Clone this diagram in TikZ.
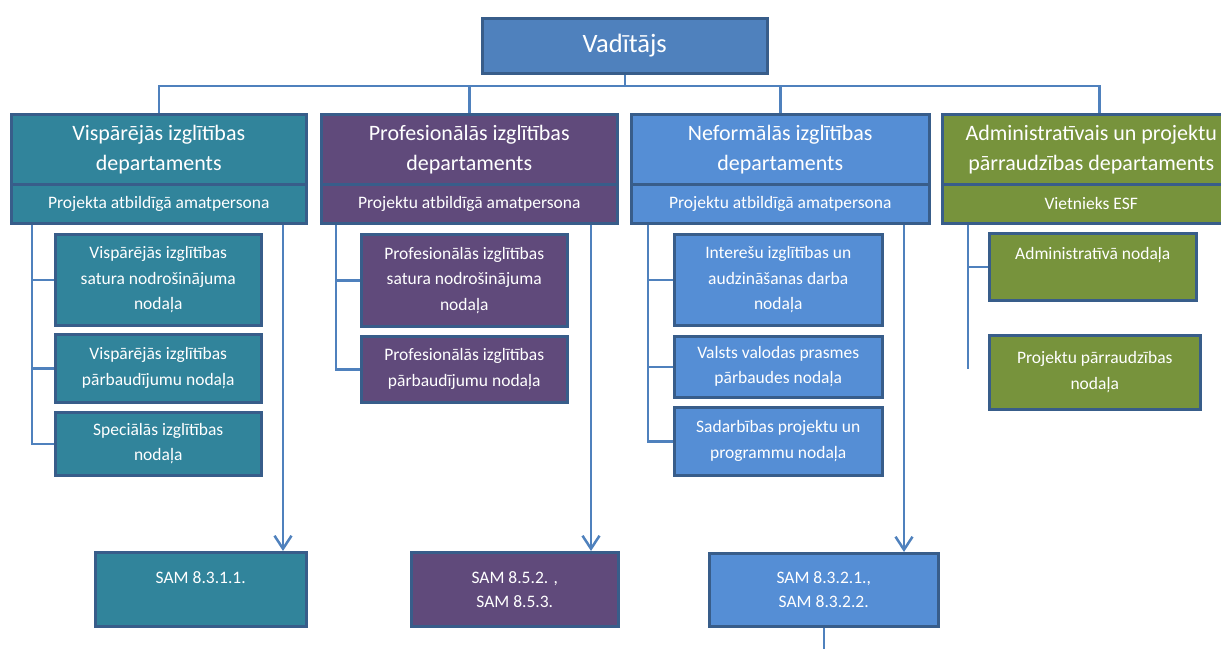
\documentclass[tikz,border=0pt]{standalone}
\usepackage{fontspec}
\setmainfont{Carlito}
\usetikzlibrary{arrows.meta,shadows}
\definecolor{cTop}{HTML}{4F81BD}
\definecolor{cBorder}{HTML}{385D8A}
\definecolor{cTeal}{HTML}{31849B}
\definecolor{cPurple}{HTML}{604A7B}
\definecolor{cBlue}{HTML}{558ED5}
\definecolor{cGreen}{HTML}{77933C}
\definecolor{cLine}{HTML}{4F81BD}
\begin{document}
\begin{tikzpicture}[x=1pt,y=-1pt,
  box/.style={draw=cBorder, line width=2.5pt, text=white, inner sep=0pt,
    anchor=north west, align=center,
    drop shadow={opacity=0.18,shadow xshift=1.5pt,shadow yshift=-1.5pt}},
  sz/.style n args={2}{minimum width=#1pt, minimum height=#2pt},
  fTop/.style={font=\fontsize{26.5}{30}\selectfont},
  fDept/.style={font=\fontsize{22}{30}\selectfont},
  fSub/.style={font=\fontsize{17.5}{20}\selectfont},
  fBox/.style={font=\fontsize{17.5}{25.5}\selectfont},
  fSam/.style={font=\fontsize{17.5}{24}\selectfont},
  conn/.style={draw=cLine, line width=2.5pt},
  arr/.style={conn, -{Straight Barb[length=13pt,width=17pt,line width=2.5pt]}},
]
\useasboundingbox (0,0) rectangle (1221,648);
\clip (0,0) rectangle (1221,648);

% top
\node[box, fill=cTop, sz={285}{55}, fTop] (top) at (481,17) {Vadītājs};

% departments
\node[box, fill=cTeal, sz={295}{70}, fDept] (d1) at (10,113) {Vispārējās izglītības\\departaments};
\node[box, fill=cTeal, sz={295}{39}, fSub] (d1s) at (10,183) {Projekta atbildīgā amatpersona};
\node[box, fill=cPurple, sz={296}{70}, fDept] (d2) at (320,113) {Profesionālās izglītības\\departaments};
\node[box, fill=cPurple, sz={296}{39}, fSub] (d2s) at (320,183) {Projektu atbildīgā amatpersona};
\node[box, fill=cBlue, sz={298}{70}, fDept] (d3) at (630,113) {Neformālās izglītības\\departaments};
\node[box, fill=cBlue, sz={298}{39}, fSub] (d3s) at (630,183) {Projektu atbildīgā amatpersona};
\node[box, fill=cGreen, sz={298}{70}, fDept] (d4) at (941,113) {Administratīvais un projektu\\pārraudzības departaments};
\node[box, fill=cGreen, sz={298}{39}, fSub] (d4s) at (941,183) {Vietnieks ESF};

% sub units
\node[box, fill=cTeal, sz={206}{91}, fBox] (s1a) at (54,233) {Vispārējās izglītības\\satura nodrošinājuma\\nodaļa};
\node[box, fill=cTeal, sz={206}{68}, fBox] (s1b) at (54,333) {Vispārējās izglītības\\pārbaudījumu nodaļa};
\node[box, fill=cTeal, sz={206}{63}, fBox] (s1c) at (54,411) {Speciālās izglītības\\nodaļa};

\node[box, fill=cPurple, sz={206}{92}, fBox] (s2a) at (360,233) {Profesionālās izglītības\\satura nodrošinājuma\\nodaļa};
\node[box, fill=cPurple, sz={206}{66}, fBox] (s2b) at (360,335) {Profesionālās izglītības\\pārbaudījumu nodaļa};

\node[box, fill=cBlue, sz={208}{91}, fBox] (s3a) at (673,233) {Interešu izglītības un\\audzināšanas darba\\nodaļa};
\node[box, fill=cBlue, sz={208}{61}, fBox] (s3b) at (673,335) {Valsts valodas prasmes\\pārbaudes nodaļa};
\node[box, fill=cBlue, sz={208}{68}, fBox] (s3c) at (673,406) {Sadarbības projektu un\\programmu nodaļa};

\node[box, fill=cGreen, sz={207}{67}, fBox, text height=26pt, text depth=41pt] (s4a) at (988,232) {Administratīvā nodaļa};
\node[box, fill=cGreen, sz={211}{74}, fBox] (s4b) at (988,334) {Projektu pārraudzības\\nodaļa};

% SAM boxes
\node[box, fill=cTeal, sz={211}{74}, fSam, text height=31pt, text depth=43pt] (sam1) at (94,551) {SAM 8.3.1.1.};
\node[box, fill=cPurple, sz={207}{74}, fSam] (sam2) at (410,551) {SAM 8.5.2. ,\\SAM 8.5.3.};
\node[box, fill=cBlue, sz={229}{73}, fSam] (sam3) at (708,552) {SAM 8.3.2.1.,\\SAM 8.3.2.2.};

% connectors: top level
\coordinate (bus) at (623,86);
\draw[conn] (top.south) -- (top.south |- bus);
\draw[conn] (d1.north) |- (bus) -| ([xshift=8pt]d4.north);
\draw[conn] (d2.north) -- (d2.north |- bus);
\draw[conn] (d3.north) -- (d3.north |- bus);

% dept 1
\coordinate (x1l) at (32,0);
\coordinate (x1r) at (283,0);
\draw[conn] (x1l |- d1s.south) |- (s1c.west);
\draw[conn] (x1l |- s1a.west) -- (s1a.west);
\draw[conn] (x1l |- s1b.west) -- (s1b.west);
\draw[arr] (x1r |- d1s.south) -- (x1r |- sam1.north);

% dept 2
\coordinate (x2l) at (336,0);
\coordinate (x2r) at (591,0);
\draw[conn] (x2l |- d2s.south) |- (s2b.west);
\draw[conn] (x2l |- s2a.west) -- (s2a.west);
\draw[arr] (x2r |- d2s.south) -- (x2r |- sam2.north);

% dept 3
\coordinate (x3l) at (648,0);
\coordinate (x3r) at (904,0);
\draw[conn] (x3l |- d3s.south) |- (s3c.west);
\draw[conn] (x3l |- s3a.west) -- (s3a.west);
\draw[conn] (x3l |- s3b.west) -- (s3b.west);
\draw[arr] (x3r |- d3s.south) -- (x3r |- sam3.north);
\coordinate (e3) at (823,660);
\draw[conn] (sam3.south) -- (sam3.south |- e3);

% dept 4
\coordinate (x4l) at (968,0);
\coordinate (e4) at (968,369);
\draw[conn] (x4l |- d4s.south) -- (e4);
\draw[conn] (x4l |- s4a.west) -- (s4a.west);
\end{tikzpicture}
\end{document}
